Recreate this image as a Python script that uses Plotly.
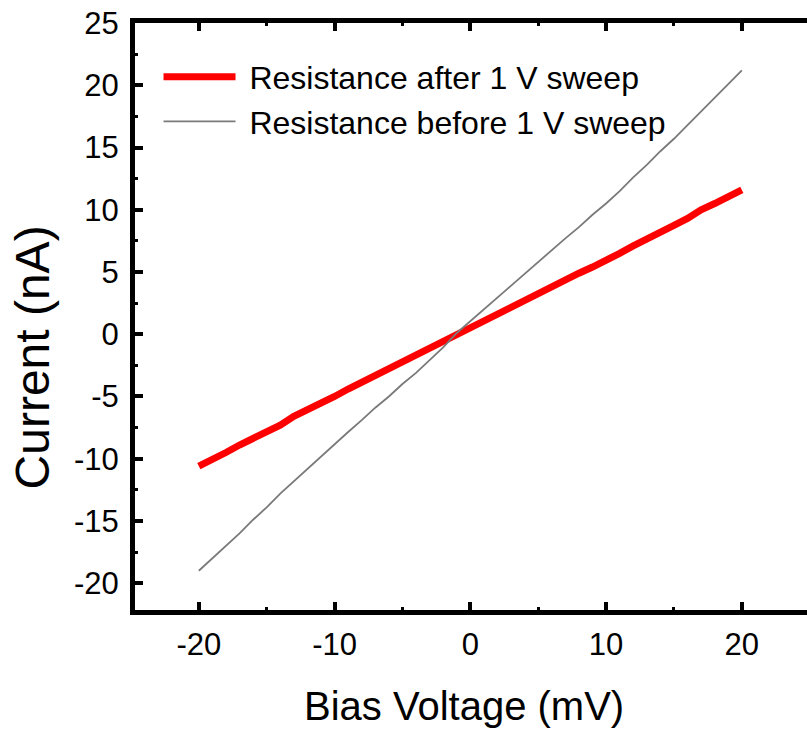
import plotly.graph_objects as go

bias_mv = [-20, -19, -18, -17, -16, -15, -14, -13, -12, -11, -10, -9, -8, -7, -6, -5, -4, -3, -2, -1,
           0, 1, 2, 3, 4, 5, 6, 7, 8, 9, 10, 11, 12, 13, 14, 15, 16, 17, 18, 19, 20]
current_after = [-10.6, -10.1, -9.5, -8.9, -8.4, -7.9, -7.3, -6.6, -6.1, -5.5, -5.0, -4.4, -3.85, -3.3,
                 -2.65, -2.1, -1.6, -1.1, -0.55, 0.0, 0.5, 1.05, 1.6, 2.15, 2.7, 3.25, 3.8, 4.4, 4.9,
                 5.4, 5.9, 6.5, 7.1, 7.6, 8.2, 8.75, 9.3, 10.0, 10.5, 11.0, 11.6]
current_before = [-19.0, -18.0, -17.0, -16.0, -14.9, -13.9, -12.8, -11.8, -10.8, -9.8, -8.8, -7.85,
                  -6.9, -5.9, -5.0, -4.0, -3.1, -2.1, -1.05, 0.1, 1.05, 2.0, 3.0, 3.9, 4.9, 5.8, 6.8,
                  7.7, 8.6, 9.6, 10.5, 11.5, 12.6, 13.6, 14.7, 15.7, 16.8, 17.9, 19.0, 20.1, 21.2]

x_ticks = [-20, -10, 0, 10, 20]
x_tick_labels = ["-20", "-10", "0", "10", "20"]
y_ticks = [-20, -15, -10, -5, 0, 5, 10, 15, 20, 25]
y_tick_labels = ["-20", "-15", "-10", "-5", "0", "5", "10", "15", "20", "25"]

FONT = "Liberation Sans, Arial, sans-serif"
Y_RANGE = [-22.15, 25]

fig = go.Figure()
fig.add_trace(go.Scatter(x=bias_mv, y=current_after, mode="lines",
                         line=dict(color="#ff0000", width=7),
                         name="\u00a0Resistance after 1 V sweep"))
fig.add_trace(go.Scatter(x=bias_mv, y=current_before, mode="lines",
                         line=dict(color="#7a7a7a", width=1.8),
                         name="\u00a0Resistance before 1 V sweep"))

tick_common = dict(ticks="inside", ticklen=8, tickwidth=4, tickcolor="black",
                   tickfont=dict(family=FONT, size=31, color="black"))

fig.update_layout(
    xaxis=dict(range=[-24.7, 24.8], tickvals=x_ticks, ticktext=x_tick_labels,
               ticklabelstandoff=3, showgrid=False, zeroline=False,
               showline=True, linecolor="black", linewidth=5, mirror="ticks",
               minor=dict(ticks="inside", ticklen=3, tickwidth=3, dtick=5, tick0=-25,
                          tickcolor="black"),
               **tick_common),
    yaxis=dict(range=Y_RANGE, tickvals=y_ticks, ticktext=y_tick_labels,
               ticklabelstandoff=5, showgrid=False, zeroline=False,
               showline=True, linecolor="black", linewidth=5, mirror=False,
               minor=dict(ticks="inside", ticklen=3, tickwidth=3, dtick=2.5, tick0=0,
                          tickcolor="black"),
               **tick_common),
    yaxis2=dict(range=Y_RANGE, overlaying="y", side="right", tickvals=y_ticks,
                showticklabels=False, showgrid=False, zeroline=False, showline=False,
                ticks="inside", ticklen=7, tickwidth=4, tickcolor="black",
                minor=dict(ticks="inside", ticklen=4, tickwidth=3, dtick=2.5, tick0=0,
                           tickcolor="black")),
)

fig.add_annotation(text="Current (nA)", xref="paper", yref="paper", x=-0.152, y=0.43,
                   showarrow=False, textangle=-90, xanchor="center", yanchor="middle",
                   font=dict(family=FONT, size=48, color="black"))
fig.add_annotation(text="Bias Voltage (mV)", xref="paper", yref="paper", x=0.49, y=-0.163,
                   showarrow=False, xanchor="center", yanchor="middle",
                   font=dict(family=FONT, size=40, color="black"))

fig.update_layout(
    width=807, height=732,
    margin=dict(l=135, r=0, t=23, b=122),
    plot_bgcolor="white", paper_bgcolor="white",
    showlegend=True,
    legend=dict(x=0.035, y=0.955, xanchor="left", yanchor="top",
                font=dict(family=FONT, size=32, color="black"),
                bgcolor="rgba(0,0,0,0)", itemwidth=72, tracegroupgap=0),
)

fig.write_html("out.html")
